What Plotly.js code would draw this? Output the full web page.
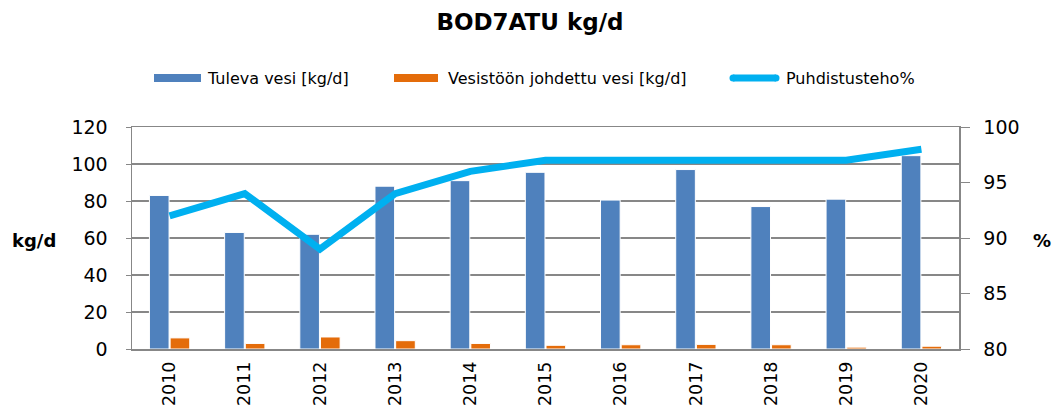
<!DOCTYPE html>
<html>
<head>
<meta charset="utf-8">
<script src="https://cdn.plot.ly/plotly-3.0.1.min.js"></script>
<style>html,body{margin:0;padding:0;background:#fff;}#chart{width:1052px;height:415px;}</style>
</head>
<body>
<div id="chart"></div>
<script>
var years = ['2010','2011','2012','2013','2014','2015','2016','2017','2018','2019','2020'];
var tulevaVesi = [83, 63, 62, 88, 91, 95.5, 80.5, 97, 77, 81, 104.5];
var vesistoonVesi = [6, 3, 6.5, 4.5, 3, 2, 2.3, 2.5, 2.3, 1, 1.5];
var puhdistusteho = [92, 94, 89, 94, 96, 97, 97, 97, 97, 97, 98];
var leftTicks = [0, 20, 40, 60, 80, 100, 120];
var rightTicks = [80, 85, 90, 95, 100];
var seriesNames = ['Tuleva vesi [kg/d]', 'Vesistöön johdettu vesi [kg/d]', 'Puhdistusteho%'];
var colors = ['#4F81BD', '#E46C0A', '#00B0F0'];

var FONT = 'DejaVu Sans';
var L = 132, R = 959, T = 127, B = 349;
function px(x){ return (x - L) / (R - L); }
function py(y){ return (B - y) / (B - T); }

var traces = [
  {type:'bar', name:seriesNames[0], x:years, y:tulevaVesi, marker:{color:colors[0], line:{color:'#ffffff', width:1}}, showlegend:false, hoverinfo:'x+y'},
  {type:'bar', name:seriesNames[1], x:years, y:vesistoonVesi, marker:{color:colors[1], line:{color:'#ffffff', width:1}}, showlegend:false, hoverinfo:'x+y'},
  {type:'scatter', mode:'lines', name:seriesNames[2], x:years, y:puhdistusteho, yaxis:'y2', line:{color:colors[2], width:7}, showlegend:false}
];

var legY = py(78);
var layout = {
  width:1052, height:415,
  margin:{l:L, r:1052-R, t:T, b:415-B, pad:0},
  paper_bgcolor:'#ffffff', plot_bgcolor:'#ffffff',
  font:{family:FONT, color:'#000000', size:19},
  title:{text:'<b>BOD7ATU kg/d</b>', font:{family:FONT, size:23, color:'#000000'}, x:530/1052, xanchor:'center', xref:'container', y:1-22/415, yanchor:'middle', yref:'container'},
  barmode:'group', bargap:0.45, bargroupgap:0.05,
  xaxis:{type:'category', showline:true, linecolor:'#878787', linewidth:1.5, mirror:true, ticks:'', tickangle:-90, tickfont:{family:FONT, size:17.5, color:'#000'}, ticklabelstandoff:4, showgrid:false, automargin:false, fixedrange:true},
  yaxis:{range:[0,120], tickvals:leftTicks, ticktext:leftTicks.map(String), showgrid:true, gridcolor:'#878787', gridwidth:1.3, showline:true, linecolor:'#878787', linewidth:1.5, ticks:'outside', ticklen:5, tickcolor:'#878787', tickfont:{family:FONT, size:19, color:'#000'}, ticklabelstandoff:14, zeroline:false, automargin:false, fixedrange:true},
  yaxis2:{range:[80,100], tickvals:rightTicks, ticktext:rightTicks.map(String), overlaying:'y', side:'right', showgrid:false, showline:true, linecolor:'#878787', linewidth:1.5, ticks:'outside', ticklen:9, tickcolor:'#878787', tickfont:{family:FONT, size:19, color:'#000'}, ticklabelstandoff:10, zeroline:false, automargin:false, fixedrange:true},
  shapes:[
    {type:'rect', xref:'paper', yref:'paper', x0:px(154), x1:px(201), y0:py(82), y1:py(74), fillcolor:colors[0], line:{width:0}},
    {type:'rect', xref:'paper', yref:'paper', x0:px(394), x1:px(438), y0:py(82), y1:py(74), fillcolor:colors[1], line:{width:0}},
    {type:'line', xref:'paper', yref:'paper', x0:px(733), x1:px(776), y0:legY, y1:legY, line:{color:colors[2], width:7}},
    {type:'circle', xref:'paper', yref:'paper', x0:px(729.5), x1:px(736.5), y0:py(81.5), y1:py(74.5), fillcolor:colors[2], line:{width:0}},
    {type:'circle', xref:'paper', yref:'paper', x0:px(772.5), x1:px(779.5), y0:py(81.5), y1:py(74.5), fillcolor:colors[2], line:{width:0}}
  ],
  annotations:[
    {text:seriesNames[0], xref:'paper', yref:'paper', x:px(205), y:legY, xanchor:'left', yanchor:'middle', showarrow:false, font:{family:FONT, size:16, color:'#000'}},
    {text:seriesNames[1], xref:'paper', yref:'paper', x:px(446), y:legY, xanchor:'left', yanchor:'middle', showarrow:false, font:{family:FONT, size:16, color:'#000'}},
    {text:seriesNames[2], xref:'paper', yref:'paper', x:px(784), y:legY, xanchor:'left', yanchor:'middle', showarrow:false, font:{family:FONT, size:16, color:'#000'}},
    {text:'<b>kg/d</b>', xref:'paper', yref:'paper', x:px(34), y:py(240), xanchor:'center', yanchor:'middle', showarrow:false, font:{family:FONT, size:18, color:'#000'}},
    {text:'<b>%</b>', xref:'paper', yref:'paper', x:px(1042), y:py(240), xanchor:'center', yanchor:'middle', showarrow:false, font:{family:FONT, size:18, color:'#000'}}
  ]
};

Plotly.newPlot('chart', traces, layout, {displayModeBar:false, staticPlot:true});
</script>
</body>
</html>
